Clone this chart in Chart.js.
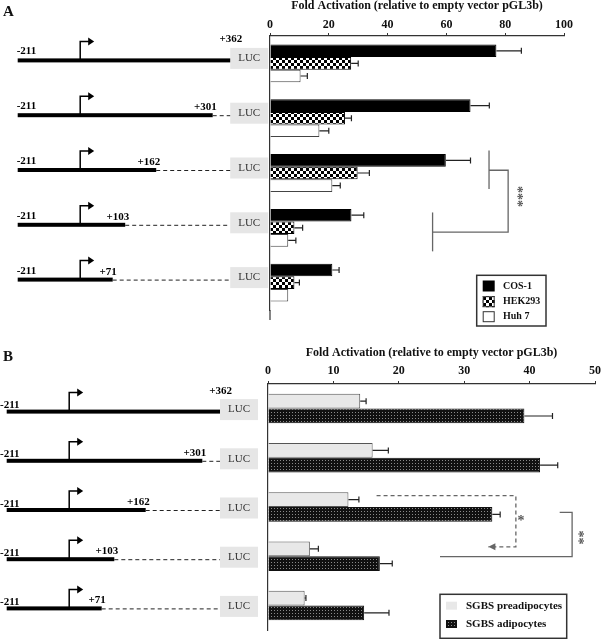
<!DOCTYPE html>
<html>
<head>
<meta charset="utf-8">
<script src="https://cdn.jsdelivr.net/npm/chart.js@4.4.0/dist/chart.umd.min.js"></script>
<style>
  body { margin: 0; background: #fff; }
  canvas { position: absolute; left: 0; }
</style>
</head>
<body>
<canvas id="chart-a" width="602" height="330" style="top:0"></canvas>
<canvas id="chart-b" width="602" height="309" style="top:330px"></canvas>
<script>
// constructs (3' end of each promoter fragment)
const constructs = ['+362', '+301', '+162', '+103', '+71'];
const startLabel = '-211';
const axisTitle = 'Fold Activation (relative to empty vector pGL3b)';

// Panel A
const ticksA = [0, 20, 40, 60, 80, 100];
const cos1 = [77, 68.2, 59.8, 27.7, 21.2];
const cos1Err = [8.5, 6.4, 8.4, 4.2, 2.3];
const hek293 = [27.6, 25.5, 29.8, 8.3, 8.3];
const hek293Err = [2.4, 2.2, 4.0, 2.8, 1.7];
const huh7 = [10.4, 16.8, 21.2, 6.2, 6.2];
const huh7Err = [2.3, 3.2, 2.7, 2.6, 0];

// Panel B
const ticksB = [0, 10, 20, 30, 40, 50];
const preadipocytes = [14.1, 16.0, 12.3, 6.4, 5.6];
const preadipocytesErr = [0.9, 2.4, 1.6, 1.3, 0.2];
const adipocytes = [39.2, 41.6, 34.3, 17.1, 14.7];
const adipocytesErr = [4.3, 2.7, 1.2, 1.9, 3.8];

const serif = "'Liberation Serif', 'DejaVu Serif', serif";

// fill patterns
function makePattern(size, paint) {
    const c = document.createElement('canvas');
    c.width = c.height = size;
    paint(c.getContext('2d'));
    return c.getContext('2d').createPattern(c, 'repeat');
}
const checker = makePattern(6, g => {
    g.fillStyle = '#fff'; g.fillRect(0, 0, 6, 6);
    g.fillStyle = '#000'; g.fillRect(0, 0, 3, 3); g.fillRect(3, 3, 3, 3);
});
const dots = makePattern(3, g => {
    g.fillStyle = '#111'; g.fillRect(0, 0, 3, 3);
    g.fillStyle = '#8a8a8a'; g.fillRect(1, 1, 1, 1);
});

// drawing of construct diagrams, legend, error bars and significance brackets
function makeDecor(cfg) {
    return {
        id: 'decor',
        afterDraw(chart) {
            const ctx = chart.ctx;
            const xs = chart.scales.x, ys = chart.scales.y;
            const px = v => xs.getPixelForValue(v);
            const py = i => ys.getPixelForValue(0) + i * (ys.getPixelForValue(1) - ys.getPixelForValue(0));
            ctx.save();

            // axis line runs a bit past the last group
            if (cfg.extendAxis) {
                ctx.strokeStyle = '#333'; ctx.lineWidth = 1.2;
                ctx.beginPath();
                ctx.moveTo(chart.chartArea.left, chart.chartArea.bottom);
                ctx.lineTo(chart.chartArea.left, chart.chartArea.bottom + cfg.extendAxis);
                ctx.stroke();
            }

            // error bars
            ctx.strokeStyle = '#222'; ctx.lineWidth = 1.2;
            chart.data.datasets.forEach((ds, i) => {
                chart.getDatasetMeta(i).data.forEach((bar, j) => {
                    const e = ds.err[j];
                    if (!e) return;
                    const xe = px(ds.data[j] + e);
                    ctx.beginPath();
                    ctx.moveTo(bar.x, bar.y); ctx.lineTo(xe, bar.y);
                    ctx.moveTo(xe, bar.y - 3); ctx.lineTo(xe, bar.y + 3);
                    ctx.stroke();
                });
            });

            // panel letter
            ctx.fillStyle = '#111';
            ctx.font = `bold 15px ${serif}`;
            ctx.textBaseline = 'middle'; ctx.textAlign = 'left';
            ctx.fillText(cfg.letter, 3, cfg.letterY);

            // construct diagrams
            const d = cfg.diagram;
            const lucX = d.x0 + d.lens[0];
            chart.data.labels.forEach((lab, i) => {
                const y = ys.getPixelForValue(i) + d.dy;
                const end = d.x0 + d.lens[i];
                ctx.fillStyle = '#e6e6e6';
                ctx.fillRect(lucX, y - 12.5, d.lucW, 21);
                ctx.fillStyle = '#333';
                ctx.font = `11px ${serif}`;
                ctx.textAlign = 'center'; ctx.textBaseline = 'middle';
                ctx.fillText('LUC', lucX + d.lucW / 2, y - 2);

                ctx.fillStyle = '#000';
                ctx.fillRect(d.x0, y - 2, end - d.x0, 4);
                if (end < lucX) {
                    ctx.strokeStyle = '#222'; ctx.lineWidth = 1;
                    ctx.setLineDash([4, 3]);
                    ctx.beginPath(); ctx.moveTo(end, y + 0.5); ctx.lineTo(lucX, y + 0.5); ctx.stroke();
                    ctx.setLineDash([]);
                }
                // transcription start arrow
                const t = d.x0 + d.tss;
                ctx.strokeStyle = '#000'; ctx.lineWidth = 1.5;
                ctx.beginPath(); ctx.moveTo(t, y); ctx.lineTo(t, y - 19); ctx.lineTo(t + 10, y - 19); ctx.stroke();
                ctx.beginPath(); ctx.moveTo(t + 8, y - 23); ctx.lineTo(t + 14, y - 19); ctx.lineTo(t + 8, y - 15); ctx.closePath(); ctx.fill();

                ctx.font = `bold 11px ${serif}`;
                ctx.textBaseline = 'alphabetic';
                ctx.textAlign = 'left';
                ctx.fillText(startLabel, d.startX, y + d.startDy);
                ctx.textAlign = 'right';
                if (i === 0) ctx.fillText(lab, end + 12, y - 18);
                else ctx.fillText(lab, end + 4, y - 5);
            });

            // significance brackets
            cfg.brackets.forEach(b => {
                ctx.strokeStyle = '#666'; ctx.fillStyle = '#666'; ctx.lineWidth = 1.3;
                ctx.setLineDash(b.dashed ? [4, 3] : []);
                ctx.beginPath();
                b.pts.forEach(([v, i], k) => k ? ctx.lineTo(px(v), py(i)) : ctx.moveTo(px(v), py(i)));
                ctx.stroke();
                ctx.setLineDash([]);
                if (b.arrow) {
                    const [v, i] = b.pts[b.pts.length - 1];
                    const ax = px(v), ay = py(i);
                    ctx.beginPath(); ctx.moveTo(ax, ay); ctx.lineTo(ax + 7, ay - 3.5); ctx.lineTo(ax + 7, ay + 3.5); ctx.closePath(); ctx.fill();
                }
            });
            cfg.stars.forEach(s => {
                ctx.save();
                ctx.translate(px(s.at[0]), py(s.at[1]));
                if (s.rotate) ctx.rotate(Math.PI / 2);
                ctx.fillStyle = '#555';
                ctx.font = `bold 14px ${serif}`;
                ctx.textAlign = 'center'; ctx.textBaseline = 'middle';
                ctx.fillText(s.text, 0, 2);
                ctx.restore();
            });

            // legend box
            const L = cfg.legend;
            ctx.strokeStyle = '#333'; ctx.lineWidth = 1.5;
            ctx.strokeRect(L.x, L.y, L.w, L.h);
            chart.data.datasets.forEach((ds, i) => {
                const cy = L.y + L.rows[i];
                ctx.fillStyle = ds.backgroundColor;
                ctx.fillRect(L.swX, cy - L.swH / 2, L.swW, L.swH);
                if (ds.legendBorder) {
                    ctx.strokeStyle = '#333'; ctx.lineWidth = 1;
                    ctx.strokeRect(L.swX + 0.5, cy - L.swH / 2 + 0.5, L.swW - 1, L.swH - 1);
                }
                ctx.fillStyle = '#111';
                ctx.font = `bold ${L.size}px ${serif}`;
                ctx.textAlign = 'left'; ctx.textBaseline = 'middle';
                ctx.fillText(ds.label, L.textX, cy);
            });
            ctx.restore();
        }
    };
}

function barOptions(o) {
    return {
        indexAxis: 'y',
        responsive: false,
        animation: false,
        layout: { padding: { left: o.left, right: o.right, top: 0, bottom: o.bottom } },
        plugins: { legend: { display: false }, tooltip: { enabled: false } },
        datasets: { bar: { barPercentage: 1, categoryPercentage: o.groupWidth } },
        scales: {
            x: {
                position: 'top', min: 0, max: o.ticks[o.ticks.length - 1],
                afterBuildTicks: s => { s.ticks = o.ticks.map(v => ({ value: v })); },
                afterFit: s => { s.height = o.axisY; s.paddingLeft = 0; s.paddingRight = 0; },
                grid: { drawOnChartArea: false, tickLength: 3, tickColor: '#333', tickWidth: 1 },
                border: { color: '#333', width: 1.2 },
                ticks: { padding: o.tickPad, color: '#111', font: { family: serif, size: 12, weight: 'bold' } },
                title: {
                    display: true, text: axisTitle, color: '#111',
                    padding: { top: o.titlePad, bottom: 0 },
                    font: { family: serif, size: 12, weight: 'bold', lineHeight: 1 }
                }
            },
            y: {
                grid: { display: false },
                border: { color: '#333', width: 1.2 },
                ticks: { display: false },
                afterFit: s => { s.width = 0; }
            }
        }
    };
}

window.addEventListener('load', () => {
    const chartA = document.getElementById('chart-a');
    const chartB = document.getElementById('chart-b');

    new Chart(chartA, {
        type: 'bar',
        data: {
            labels: constructs,
            datasets: [
                { label: 'COS-1', data: cos1, err: cos1Err, backgroundColor: '#000', borderColor: '#000', borderWidth: 1 },
                { label: 'HEK293', data: hek293, err: hek293Err, backgroundColor: checker, borderColor: '#000', borderWidth: 1, legendBorder: true },
                { label: 'Huh 7', data: huh7, err: huh7Err, backgroundColor: '#fff', borderColor: '#444', borderWidth: 1, legendBorder: true }
            ]
        },
        options: barOptions({ left: 270, right: 38, bottom: 20, axisY: 36, tickPad: 1, titlePad: 0, groupWidth: 0.69, ticks: ticksA }),
        plugins: [makeDecor({
            letter: 'A', letterY: 12, extendAxis: 10,
            diagram: { x0: 17.7, dy: -3, tss: 62.5, lens: [212.5, 195, 138.5, 107.5, 95], lucW: 38, startX: 16.7, startDy: -6 },
            legend: { x: 476.7, y: 275.3, w: 69.3, h: 50.7, rows: [10.7, 26.4, 41.4], swX: 482.7, swW: 12, swH: 11, textX: 503, size: 10 },
            brackets: [
                { pts: [[74.5, 1.59], [74.5, 2.29]] },
                { pts: [[74.5, 1.95], [81, 1.95], [81, 3.08], [55.3, 3.08]] },
                { pts: [[55.3, 2.72], [55.3, 3.43]] }
            ],
            stars: [{ text: '***', at: [84.4, 2.43], rotate: true }]
        })]
    });

    new Chart(chartB, {
        type: 'bar',
        data: {
            labels: constructs,
            datasets: [
                { label: 'SGBS preadipocytes', data: preadipocytes, err: preadipocytesErr, backgroundColor: '#e8e8e8', borderColor: '#555', borderWidth: 1 },
                { label: 'SGBS adipocytes', data: adipocytes, err: adipocytesErr, backgroundColor: dots, borderColor: '#111', borderWidth: 1 }
            ]
        },
        options: barOptions({ left: 268, right: 7, bottom: 9, axisY: 54, tickPad: 3, titlePad: 17, groupWidth: 0.6, ticks: ticksB }),
        plugins: [makeDecor({
            letter: 'B', letterY: 27, extendAxis: 0,
            diagram: { x0: 6.7, dy: 3, tss: 62.5, lens: [213.3, 195.6, 139, 107.6, 95], lucW: 38, startX: 0, startDy: -3.4 },
            legend: { x: 440, y: 264.3, w: 126.7, h: 44, rows: [11.4, 29.7], swX: 446, swW: 11, swH: 8, textX: 466, size: 11 },
            brackets: [
                { dashed: true, arrow: true, pts: [[16.6, 1.77], [37.9, 1.77], [37.9, 2.81], [33.7, 2.81]] },
                { pts: [[44.6, 2.11], [46.5, 2.11], [46.5, 3.01], [26.3, 3.01]] }
            ],
            stars: [
                { text: '*', at: [38.7, 2.26] },
                { text: '**', at: [47.6, 2.62], rotate: true }
            ]
        })]
    });
});
</script>
</body>
</html>
